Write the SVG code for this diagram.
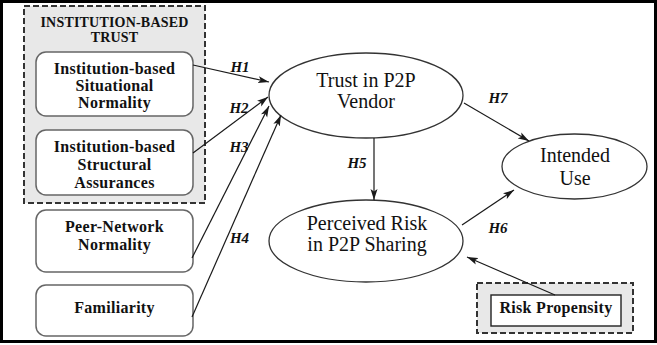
<svg xmlns="http://www.w3.org/2000/svg" width="657" height="345" viewBox="0 0 657 345">
  <style>
    .frame { fill: #ffffff; stroke: #000000; stroke-width: 3; }
    .group { fill: #e8e8e8; stroke: #333333; stroke-width: 2; stroke-dasharray: 6 3; }
    .box { fill: #ffffff; stroke: #666666; stroke-width: 1.5; }
    .sbox { fill: #ffffff; stroke: #222222; stroke-width: 1.4; }
    .oval { fill: #ffffff; stroke: #333333; stroke-width: 1.3; }
    .bt { font-family: "Liberation Serif", "Times New Roman", serif; font-weight: bold; font-size: 16px; letter-spacing: 0.3px; fill: #111111; text-anchor: middle; }
    .tt { font-family: "Liberation Serif", "Times New Roman", serif; font-weight: bold; font-size: 14px; letter-spacing: 0.2px; fill: #111111; text-anchor: middle; }
    .et { font-family: "Liberation Serif", "Times New Roman", serif; font-size: 20px; fill: #111111; text-anchor: middle; }
    .ht { font-family: "Liberation Serif", "Times New Roman", serif; font-weight: bold; font-style: italic; font-size: 15px; fill: #111111; text-anchor: middle; }
    .edge { stroke: #1a1a1a; stroke-width: 1.2; fill: none; marker-end: url(#arrow); }
  </style>
  <defs>
    <marker id="arrow" markerUnits="userSpaceOnUse" markerWidth="12" markerHeight="8" refX="11" refY="4" orient="auto">
      <path d="M0,0.5 L11,4 L0,7.5 L2.5,4 Z" fill="#1a1a1a"/>
    </marker>
  </defs>

  <rect class="frame" x="1.5" y="1.5" width="654" height="340"/>

  <!-- institution-based trust grouping -->
  <g id="institution-based-trust">
    <rect class="group" x="24" y="6" width="181" height="197"/>
    <text class="tt" x="114.5" y="27">INSTITUTION-BASED</text>
    <text class="tt" x="114.5" y="42">TRUST</text>
  </g>

  <g id="situational-normality">
    <rect class="box" x="36" y="52" width="157" height="64" rx="10"/>
    <text class="bt" x="114.5" y="74">Institution-based</text>
    <text class="bt" x="114.5" y="91">Situational</text>
    <text class="bt" x="114.5" y="108">Normality</text>
  </g>

  <g id="structural-assurances">
    <rect class="box" x="36" y="130" width="157" height="65" rx="10"/>
    <text class="bt" x="114.5" y="152">Institution-based</text>
    <text class="bt" x="114.5" y="170">Structural</text>
    <text class="bt" x="114.5" y="188">Assurances</text>
  </g>

  <g id="peer-network-normality">
    <rect class="box" x="36" y="210" width="157" height="62" rx="10"/>
    <text class="bt" x="114.5" y="232">Peer-Network</text>
    <text class="bt" x="114.5" y="250">Normality</text>
  </g>

  <g id="familiarity">
    <rect class="box" x="36" y="285" width="157" height="51" rx="10"/>
    <text class="bt" x="114.5" y="313">Familiarity</text>
  </g>

  <g id="trust-vendor">
    <ellipse class="oval" cx="366" cy="95.5" rx="97" ry="42.5"/>
    <text class="et" x="366" y="87">Trust in P2P</text>
    <text class="et" x="366" y="108">Vendor</text>
  </g>

  <g id="perceived-risk">
    <ellipse class="oval" cx="366" cy="241" rx="97" ry="41"/>
    <text class="et" x="367" y="230">Perceived Risk</text>
    <text class="et" x="367" y="251">in P2P Sharing</text>
  </g>

  <g id="intended-use">
    <ellipse class="oval" cx="574.5" cy="166.5" rx="72.5" ry="32.5"/>
    <text class="et" x="575" y="162">Intended</text>
    <text class="et" x="575" y="185">Use</text>
  </g>

  <g id="risk-propensity">
    <rect class="group" x="477" y="283" width="156" height="50"/>
    <rect class="sbox" x="491" y="295" width="130" height="31"/>
    <text class="bt" x="556" y="313">Risk Propensity</text>
  </g>

  <!-- hypothesised paths -->
  <g id="connectors">
    <line class="edge" x1="193" y1="65" x2="269" y2="82"/>
    <line class="edge" x1="193" y1="153" x2="268" y2="97"/>
    <line class="edge" x1="192" y1="258" x2="269" y2="106"/>
    <line class="edge" x1="192" y1="317" x2="281" y2="115"/>
    <line class="edge" x1="374" y1="138" x2="374" y2="200"/>
    <line class="edge" x1="462" y1="225" x2="514" y2="190"/>
    <line class="edge" x1="464" y1="103" x2="529" y2="141"/>
    <line class="edge" x1="555" y1="295" x2="467" y2="257"/>
    <text class="ht" x="240" y="72">H1</text>
    <text class="ht" x="239" y="113">H2</text>
    <text class="ht" x="239" y="152">H3</text>
    <text class="ht" x="239.5" y="243">H4</text>
    <text class="ht" x="357" y="168">H5</text>
    <text class="ht" x="498" y="233">H6</text>
    <text class="ht" x="498" y="103">H7</text>
  </g>
</svg>
